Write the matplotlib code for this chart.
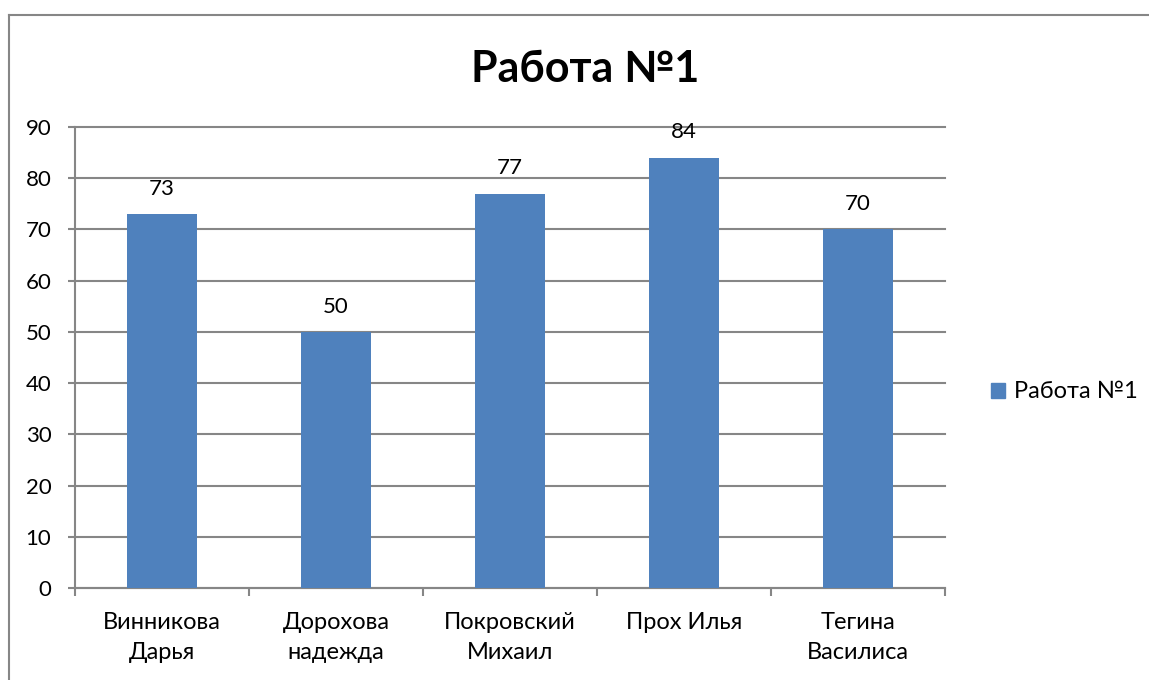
import matplotlib
matplotlib.use("Agg")
import matplotlib.pyplot as plt
from matplotlib.lines import Line2D
import numpy as np

categories = ["Винникова\nДарья", "Дорохова\nнадежда", "Покровский\nМихаил", "Прох Илья", "Тегина\nВасилиса"]
values = [73, 50, 77, 84, 70]
series_name = "Работа №1"
title = "Работа №1"
yticks = [0, 10, 20, 30, 40, 50, 60, 70, 80, 90]

plt.rcParams['font.family'] = ['Lato', 'DejaVu Sans']

W, H = 1149, 680
fig = plt.figure(figsize=(W / 100, H / 100), dpi=100)
fig.patch.set_facecolor("white")

grid_c = "#868686"
bar_c = "#4F81BD"
fs = 16
fs_cat = 17

# outer chart border (cropped on right/bottom)
fig.add_artist(Line2D([9 / W, 1.0], [1 - 15 / H, 1 - 15 / H], color=grid_c, lw=1.5, transform=fig.transFigure))
fig.add_artist(Line2D([9 / W, 9 / W], [1 - 15 / H, 0.0], color=grid_c, lw=1.5, transform=fig.transFigure))

ax = fig.add_axes([75 / W, (H - 588) / H, (945 - 75) / W, (588 - 127) / H])
x = np.arange(len(categories))
bars = ax.bar(x, values, width=0.4, color=bar_c, zorder=3)
for xi, v in zip(x, values):
    ax.annotate(str(v), (xi, v), xytext=(0, 11), textcoords="offset points",
                ha="center", va="bottom", fontsize=fs, color="black")

ax.set_xlim(-0.5, len(categories) - 0.5)
ax.set_ylim(0, 90)
ax.set_yticks(yticks)
ax.set_yticklabels([str(t) for t in yticks], fontsize=fs)
ax.yaxis.grid(True, color=grid_c, lw=1.5, zorder=0)
for gl in ax.get_ygridlines():
    gl.set_clip_on(False)
ax.set_axisbelow(True)

ax.set_xticks(np.arange(len(categories) + 1) - 0.5)
ax.set_xticklabels([])
ax.set_xticks(x, minor=True)
ax.set_xticklabels(categories, minor=True, fontsize=fs_cat, linespacing=1.55)
ax.tick_params(axis="x", which="minor", length=0, pad=17)
ax.tick_params(axis="x", which="major", length=6, width=1.5, color=grid_c, direction="out")
ax.tick_params(axis="y", length=5, width=1.5, color=grid_c, direction="out", pad=12)

for s in ["top", "right"]:
    ax.spines[s].set_visible(False)
for s in ["left", "bottom"]:
    ax.spines[s].set_color(grid_c)
    ax.spines[s].set_linewidth(1.5)

fig.text(585 / W, 1 - 69 / H, title, ha="center", va="center", fontsize=31, fontweight="bold")

handle = plt.Rectangle((0, 0), 1, 1, color=bar_c)
fig.legend([handle], [series_name], loc="center left", bbox_to_anchor=(974 / W, 1 - 392 / H),
           frameon=False, fontsize=fs_cat, handlelength=0.6, handleheight=0.6, handletextpad=0.4,
           borderpad=0.2)

fig.savefig("out.png", dpi=100)
